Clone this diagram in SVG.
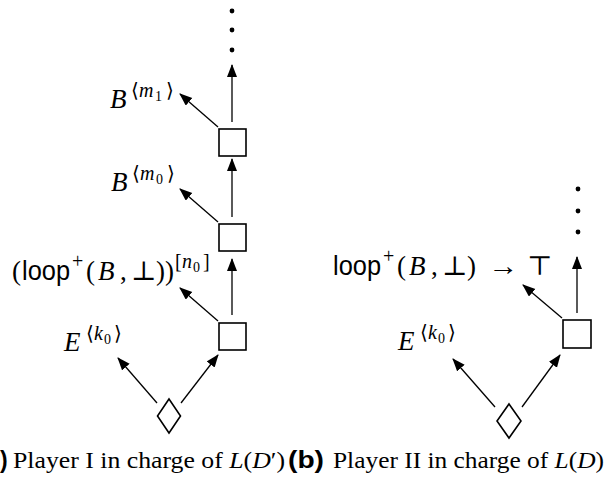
<svg xmlns="http://www.w3.org/2000/svg" width="608" height="483" viewBox="0 0 608 483">
<style>
.m{font-family:"Liberation Serif","DejaVu Serif",serif;font-size:27px;fill:#000}
.i{font-style:italic}
.sf{font-family:"Liberation Sans","DejaVu Sans",sans-serif}
.sup{font-size:20px}
.sub{font-size:14px}
.cap{font-family:"Liberation Serif","DejaVu Serif",serif;font-size:23px;fill:#000}
.capb{font-family:"Liberation Sans","DejaVu Sans",sans-serif;font-weight:bold;font-size:23px;fill:#000}
.node{fill:#fff;stroke:#000;stroke-width:1.6}
.edge{stroke:#000;stroke-width:1.3;fill:none;marker-end:url(#ah)}
.dot{fill:#000}
</style>
<defs>
<marker id="ah" markerUnits="userSpaceOnUse" markerWidth="14" markerHeight="11" refX="12" refY="5" orient="auto"><path d="M0,0 L13,5 L0,10 z" fill="#000"/></marker>
</defs>
<g id="connectors">
<line class="edge" x1="232" y1="122" x2="232" y2="65"/>
<line class="edge" x1="218" y1="127" x2="180" y2="94"/>
<line class="edge" x1="232" y1="217" x2="232" y2="159"/>
<line class="edge" x1="218" y1="222" x2="180" y2="189"/>
<line class="edge" x1="232" y1="315" x2="232" y2="259"/>
<line class="edge" x1="218" y1="321" x2="180" y2="288"/>
<line class="edge" x1="157" y1="403" x2="118" y2="358"/>
<line class="edge" x1="181" y1="403" x2="218" y2="355"/>
<line class="edge" x1="577" y1="313" x2="577" y2="257"/>
<line class="edge" x1="562" y1="318" x2="523" y2="285"/>
<line class="edge" x1="495" y1="407" x2="453" y2="359"/>
<line class="edge" x1="522" y1="407" x2="560" y2="355"/>
</g>
<g id="dots-left">
<circle class="dot" cx="232" cy="11" r="2.4"/>
<circle class="dot" cx="232" cy="30" r="2.4"/>
<circle class="dot" cx="232" cy="50" r="2.4"/>
</g>
<g id="dots-right">
<circle class="dot" cx="578" cy="189" r="2.4"/>
<circle class="dot" cx="578" cy="211" r="2.4"/>
<circle class="dot" cx="578" cy="232" r="2.4"/>
</g>
<g id="box1"><rect class="node" x="219" y="129" width="27" height="27"/></g>
<g id="box2"><rect class="node" x="219" y="224" width="27" height="27"/></g>
<g id="box3"><rect class="node" x="219" y="323" width="27" height="27"/></g>
<g id="diamond-a"><polygon class="node" points="169,399 180.5,416 169,433 157.5,416"/></g>
<g id="box-b"><rect class="node" x="563" y="320" width="28" height="28"/></g>
<g id="diamond-b"><polygon class="node" points="509,404 521,421 509,438 497,421"/></g>
<g id="label-bm1">
<text class="m"><tspan class="i" x="110" y="108">B</tspan><tspan class="sup" x="131" y="97">⟨</tspan><tspan class="sup i" x="139" y="97">m</tspan><tspan class="sub" x="155" y="101">1</tspan><tspan class="sup" x="166" y="97">⟩</tspan></text>
</g>
<g id="label-bm0">
<text class="m"><tspan class="i" x="111" y="191">B</tspan><tspan class="sup" x="132" y="180">⟨</tspan><tspan class="sup i" x="140" y="180">m</tspan><tspan class="sub" x="156" y="184">0</tspan><tspan class="sup" x="167" y="180">⟩</tspan></text>
</g>
<g id="label-loop-a">
<text class="m"><tspan x="12" y="280">(</tspan><tspan class="sf" x="22" y="280" textLength="48" lengthAdjust="spacingAndGlyphs">loop</tspan><tspan class="sup" x="72" y="268">+</tspan><tspan x="86" y="280">(</tspan><tspan class="i" x="98" y="280">B</tspan><tspan x="120" y="280">,</tspan><tspan x="131" y="280">⊥</tspan><tspan x="156" y="280">))</tspan><tspan class="sup" x="175" y="268">[</tspan><tspan class="sup i" x="182" y="268">n</tspan><tspan class="sub" x="193" y="272">0</tspan><tspan class="sup" x="203" y="268">]</tspan></text>
</g>
<g id="label-ek-a">
<text class="m"><tspan class="i" x="64" y="351">E</tspan><tspan class="sup" x="86" y="340">⟨</tspan><tspan class="sup i" x="94" y="340">k</tspan><tspan class="sub" x="104" y="344">0</tspan><tspan class="sup" x="114" y="340">⟩</tspan></text>
</g>
<g id="label-loop-b">
<text class="m"><tspan class="sf" x="333" y="275" textLength="48" lengthAdjust="spacingAndGlyphs">loop</tspan><tspan class="sup" x="383" y="263">+</tspan><tspan x="397" y="275">(</tspan><tspan class="i" x="409" y="275">B</tspan><tspan x="431" y="275">,</tspan><tspan x="442" y="275">⊥</tspan><tspan x="467" y="275">)</tspan><tspan x="488" y="275" textLength="30" lengthAdjust="spacingAndGlyphs">→</tspan><tspan x="527" y="275">⊤</tspan></text>
</g>
<g id="label-ek-b">
<text class="m"><tspan class="i" x="398" y="350">E</tspan><tspan class="sup" x="420" y="339">⟨</tspan><tspan class="sup i" x="428" y="339">k</tspan><tspan class="sub" x="438" y="343">0</tspan><tspan class="sup" x="448" y="339">⟩</tspan></text>
</g>
<g id="captions">
<text class="capb" x="0" y="468">)</text>
<text class="cap" x="13" y="468" textLength="272" lengthAdjust="spacingAndGlyphs">Player I in charge of <tspan class="i">L</tspan>(<tspan class="i">D</tspan>′)</text>
<text class="capb" x="288" y="468" textLength="36" lengthAdjust="spacingAndGlyphs">(b)</text>
<text class="cap" x="333" y="468" textLength="271" lengthAdjust="spacingAndGlyphs">Player II in charge of <tspan class="i">L</tspan>(<tspan class="i">D</tspan>)</text>
</g>
</svg>
